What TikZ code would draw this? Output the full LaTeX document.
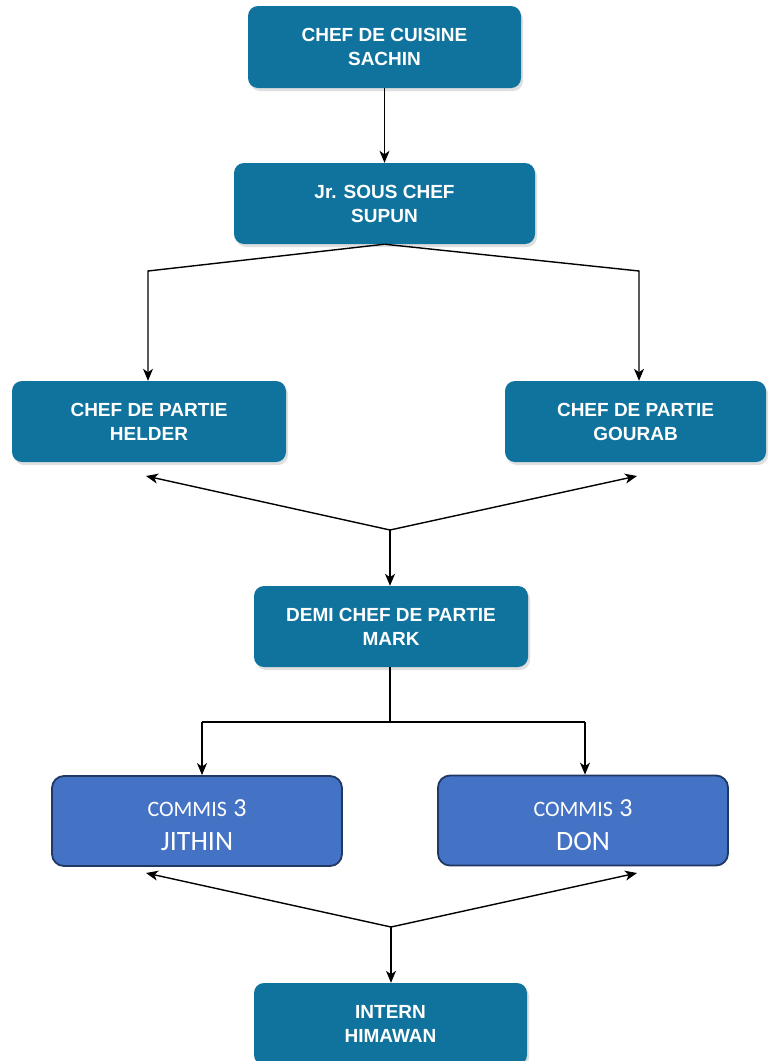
\documentclass[tikz,border=0pt]{standalone}
\usepackage{fontspec}
\usetikzlibrary{arrows.meta,shadows}
\newfontfamily\headfont{Liberation Sans}
\newfontfamily\commisfont{Carlito}
\definecolor{teal}{HTML}{10739E}
\definecolor{commisblue}{HTML}{4472C4}
\definecolor{commisedge}{HTML}{1F3864}
\tikzset{
  rolebox/.style={rectangle, rounded corners=10pt, fill=teal, draw=none,
    text=white, align=center, inner sep=0pt,
    font=\headfont\bfseries\fontsize{19}{24}\selectfont,
    drop shadow={shadow xshift=2pt, shadow yshift=-3pt, opacity=0.25, fill=gray}},
  commisbox/.style={rectangle, rounded corners=12pt, fill=commisblue,
    draw=commisedge, line width=1.8pt, text=white, align=center, inner sep=0pt,
    minimum width=290pt, minimum height=90pt,
    font=\commisfont\fontsize{28}{34}\selectfont},
  link/.style={draw=black, line width=1.4pt},
  arrowlink/.style={link, -{Stealth[length=12pt,width=10pt,inset=3.5pt]}},
}
% first line of a commis box: small-cap style title with a full-size digit;
% the tall strut lets the two lines sit a little low in the box
\newcommand{\commisline}{\rule{0pt}{26pt}{\fontsize{22}{34}\selectfont COMMIS} {\fontsize{26}{34}\selectfont 3}}
\begin{document}
\begin{tikzpicture}[x=1pt, y=-1pt]
\useasboundingbox (0,0) rectangle (769,1061);
\fill[white] (0,0) rectangle (769,1061);

% roles
\node[rolebox, minimum width=273pt, minimum height=82pt] (cuisine) at (384.5,47) {CHEF DE CUISINE\\SACHIN};
\node[rolebox, minimum width=301pt, minimum height=81pt] (sous) at (384.5,203.5) {Jr. SOUS CHEF\\SUPUN};
\node[rolebox, minimum width=274pt, minimum height=81pt] (helder) at (149,421.5) {CHEF DE PARTIE\\HELDER};
\node[rolebox, minimum width=261pt, minimum height=81pt] (gourab) at (635.5,421.5) {CHEF DE PARTIE\\GOURAB};
\node[rolebox, minimum width=274pt, minimum height=81pt] (demi) at (391,626.5) {DEMI CHEF DE PARTIE\\MARK};
\node[commisbox] (jithin) at (197,821) {\commisline\\JITHIN};
\node[commisbox] (don) at (583,820.5) {\commisline\\DON};
\node[rolebox, minimum width=273pt, minimum height=82pt] (intern) at (390.5,1024) {INTERN\\HIMAWAN};

% junction points
\coordinate (sl) at (148,271);
\coordinate (sr) at (639,271);
\coordinate (m1) at (390,530);
\coordinate (hl) at (146,476);
\coordinate (hr) at (637,476);
\coordinate (dm) at (390,722);
\coordinate (dl) at (202,722);
\coordinate (dr) at (585,722);
\coordinate (m2) at (391,927);
\coordinate (cl) at (146,873);
\coordinate (cr) at (637,873);

% connectors
\draw[arrowlink] (cuisine.south) -- (sous.north);
\draw[arrowlink] (sous.south) -- (sl) -- (sl |- helder.north);
\draw[arrowlink] (sous.south) -- (sr) -- (sr |- gourab.north);
\draw[arrowlink] (m1) -- (hl);
\draw[arrowlink] (m1) -- (hr);
\draw[arrowlink] (m1) -- (m1 |- demi.north);
\draw[link] (demi.south -| dm) -- (dm);
\draw[link] (dl) -- (dr);
\draw[arrowlink] (dl) -- (dl |- jithin.north);
\draw[arrowlink] (dr) -- (dr |- don.north);
\draw[arrowlink] (m2) -- (cl);
\draw[arrowlink] (m2) -- (cr);
\draw[arrowlink] (m2) -- (m2 |- intern.north);
\end{tikzpicture}
\end{document}
